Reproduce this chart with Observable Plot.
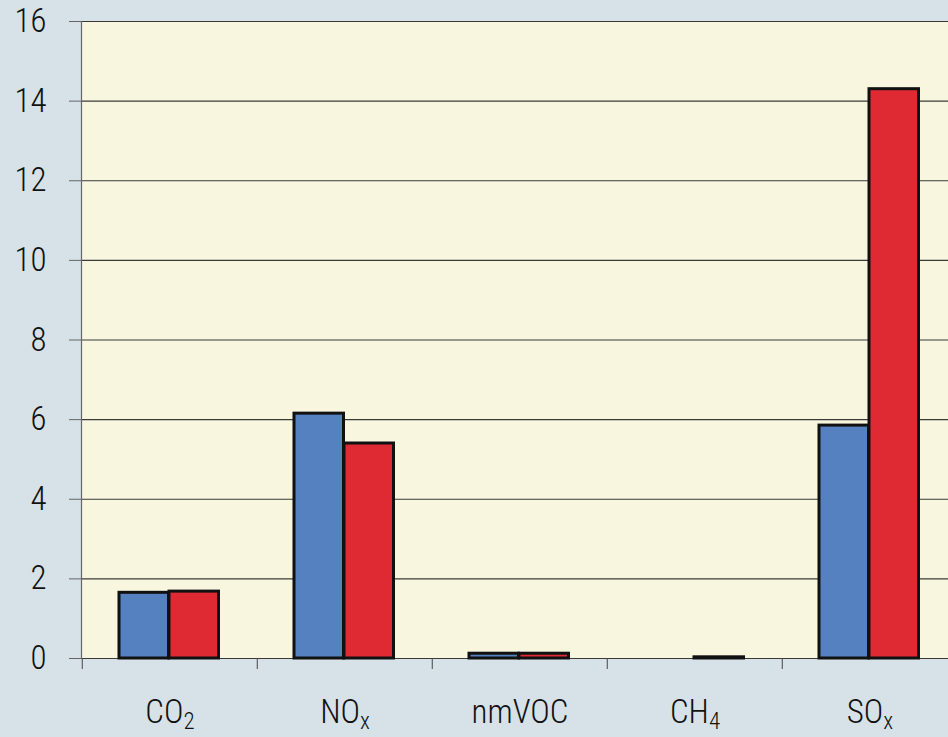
<!DOCTYPE html>
<html><head><meta charset="utf-8">
<script src="https://cdn.jsdelivr.net/npm/d3@7"></script>
<script src="https://cdn.jsdelivr.net/npm/@observablehq/plot@0.6"></script>
<style>
html,body{margin:0;padding:0;background:#d6e2e7;overflow:hidden;}
#chart svg{display:block;}
#chart svg text{font-family:'Roboto Condensed','DejaVu Sans',sans-serif;font-stretch:condensed;font-size:33px;font-weight:300;}
</style></head><body><div id="chart"></div>
<script>
const categories = ["CO2","NOx","nmVOC","CH4","SOx"];
const labelBase = ["CO","NO","nmVOC","CH","SO"];
const labelSub = ["2","x","","4","x"];
const seriesBlue = [1.65, 6.15, 0.12, 0, 5.85];
const seriesRed = [1.68, 5.40, 0.12, 0.03, 14.3];
const yTicks = [0,2,4,6,8,10,12,14,16];

const rows = categories.map((c,i)=>({cat:c, blue:seriesBlue[i], red:seriesRed[i]}));
const W = 948, H = 737;
const xRange = [81, 958.5];
const bw = (xRange[1]-xRange[0]) / categories.length;

const chart = Plot.plot({
  width: W, height: H,
  marginLeft: 81, marginTop: 21, marginBottom: 79, marginRight: 0,
  style: {background: "#d6e2e7", color: "#111"},
  x: {domain: categories, range: xRange, padding: 0, label: null},
  y: {domain: [0,16], label: null},
  marks: [
    Plot.frame({fill: "#f8f6df", stroke: null}),
    Plot.ruleY(yTicks, {y: d=>d, stroke: "#3a3a3a", strokeWidth: 1.2}),
    Plot.axisY({ticks: yTicks, tickSize: 12, tickPadding: 23, stroke: "#666", fill: "#111", label: null}),
    Plot.frame({anchor: "left", stroke: "#666", strokeWidth: 1.2}),
    Plot.barY(rows.filter(d=>d.blue>0), {x: "cat", y: "blue", fill: "#5581c1", stroke: "#111", strokeWidth: 3, insetLeft: 37, insetRight: bw-87}),
    Plot.barY(rows.filter(d=>d.red>0), {x: "cat", y: "red", fill: "#e02a33", stroke: "#111", strokeWidth: 3, insetLeft: 87, insetRight: bw-137}),
    Plot.axisX({ticks: categories, tickSize: 11, text: null, dx: -bw/2, stroke: "#444", label: null}),
    Plot.axisX({ticks: categories, tickSize: 0, tickPadding: 41, fill: "#111", label: null})
  ]
});
document.getElementById("chart").appendChild(chart);

d3.select(chart).selectAll('g[aria-label="x-axis tick label"] text').each(function(){
  const t = d3.select(this);
  const i = categories.indexOf(t.text());
  if (i < 0) return;
  t.text(null);
  t.append("tspan").text(labelBase[i]);
  if (labelSub[i]) t.append("tspan").style("font-size", "23px").attr("dy", "6").text(labelSub[i]);
});
</script>
</body></html>
